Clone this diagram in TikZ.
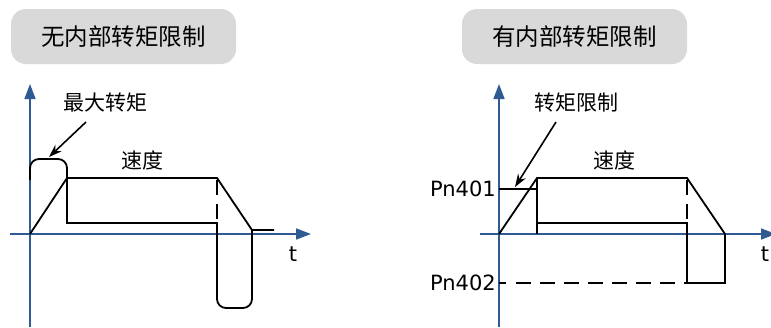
\documentclass[tikz,border=0pt]{standalone}
\usepackage{fontspec}
\setmainfont{DejaVu Sans}
\newfontfamily\cjk{Noto Sans CJK SC}
\usetikzlibrary{arrows.meta}
\definecolor{axisblue}{HTML}{2F5A92}
\definecolor{boxgrey}{HTML}{D9D9D9}
\begin{document}
\begin{tikzpicture}[x=1pt,y=-1pt,
  titlebox/.style={fill=boxgrey,rounded corners=15pt,minimum width=225pt,minimum height=55pt,inner sep=0pt,font=\cjk\fontsize{23.5}{26}\selectfont},
  cjklabel/.style={inner sep=0pt,font=\cjk\fontsize{21}{23}\selectfont},
  latlabel/.style={inner sep=0pt,font=\fontsize{21}{23}\selectfont},
  axisline/.style={draw=axisblue,line width=1.6pt,-{Triangle[length=15pt,width=11pt]}},
  axisplain/.style={draw=axisblue,line width=1.6pt},
  sig/.style={draw=black,line width=1.8pt},
  sigdash/.style={draw=black,line width=1.4pt,dash pattern=on 15pt off 9pt},
  pointer/.style={draw=black,line width=1.6pt,-{Stealth[length=13pt,width=9pt]}}]
\useasboundingbox (0,0) rectangle (771,327);
% ---------- left panel ----------
\node[titlebox] (t1) at (123.5,36.5) {无内部转矩限制};
\coordinate (la0) at (30,327);
\coordinate (la1) at (30,84);
\coordinate (lx0) at (10,234);
\coordinate (lx1) at (311,234);
\draw[axisline] (la0) -- (la1);
\draw[axisline] (lx0) -- (lx1);
\node[latlabel] (lt) at (293,254) {t};
\node[cjklabel] (lmax) at (105,103) {最大转矩};
\node[cjklabel] (lspd) at (142,160) {速度};
% speed
\draw[sig] (30,234) -- (67,178) -- (217,178) -- (252,230);
\draw[sigdash] (217,180) -- (217,223);
% torque
\draw[sig] (30,180) [rounded corners=9pt] -- (30,159) -- (67,159) [sharp corners] -- (67,223) -- (217,223) [rounded corners=9pt] -- (217,308) -- (252,308) [sharp corners] -- (252,230) -- (274,230);
\coordinate (lptr) at (49,157);
\draw[pointer] (86,122) -- (lptr);
% ---------- right panel ----------
\node[titlebox] (t2) at (574.5,36.5) {有内部转矩限制};
\coordinate (ra0) at (499,327);
\coordinate (ra1) at (499,84);
\coordinate (rx0) at (480,234);
\coordinate (rx1) at (776,234);
\draw[axisline] (ra0) -- (ra1);
\draw[axisline] (rx0) -- (rx1);
\node[latlabel] (rt) at (765,254) {t};
\node[cjklabel] (rlim) at (576,103) {转矩限制};
\node[cjklabel] (rspd) at (614,160) {速度};
\node[latlabel,anchor=east] (p401) at (496,189) {Pn401};
\node[latlabel,anchor=east] (p402) at (496,283) {Pn402};
% speed
\draw[sig] (499,234) -- (537,178) -- (687,178) -- (725,234);
\draw[sigdash] (687,180) -- (687,223);
% torque
\draw[sig] (499,189) -- (537,189);
\draw[sig] (537,178) -- (537,234);
\draw[sig] (537,223) -- (687,223) -- (687,283) -- (725,283) -- (725,234);
\draw[sig] (499,283) -- (506,283);
\draw[sigdash] (516,283) -- (687,283);
\coordinate (rptr) at (515,187);
\draw[pointer] (556,122) -- (rptr);
\end{tikzpicture}
\end{document}
